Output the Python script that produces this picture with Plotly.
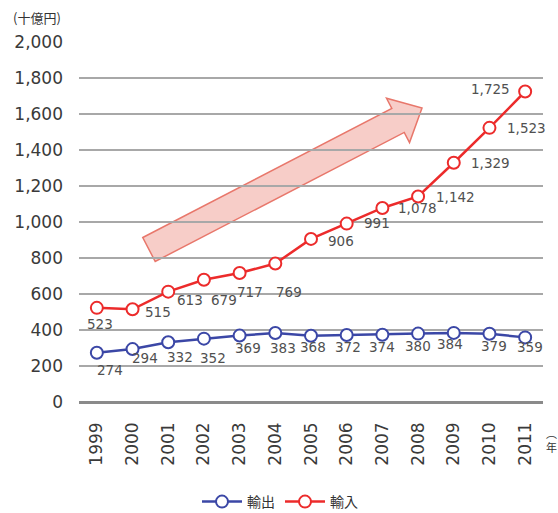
import plotly.graph_objects as go

years = ["1999", "2000", "2001", "2002", "2003", "2004", "2005",
         "2006", "2007", "2008", "2009", "2010", "2011"]
exports = [274, 294, 332, 352, 369, 383, 368, 372, 374, 380, 384, 379, 359]
imports = [523, 515, 613, 679, 717, 769, 906, 991, 1078, 1142, 1329, 1523, 1725]
y_ticks = [0, 200, 400, 600, 800, 1000, 1200, 1400, 1600, 1800, 2000]
series_names = ["輸出", "輸入"]

BLUE = "#3b47a6"
RED = "#ec2b2b"
LABEL = "#505050"
NUMFONT = "DejaVu Sans, sans-serif"
JPFONT = "Noto Sans CJK JP, sans-serif"

W, H = 558, 513
ML, MR, MT, MB = 79, 15, 42, 111

fig = go.Figure()
for name, vals, col in [(series_names[0], exports, BLUE), (series_names[1], imports, RED)]:
    fig.add_trace(go.Scatter(
        x=years, y=vals, name=name, mode="lines+markers",
        line=dict(color=col, width=2.5),
        marker=dict(symbol="circle", size=12, color="white",
                    line=dict(color=col, width=2)),
        cliponaxis=False,
    ))

def fmt(v):
    return f"{v:,}"

# label offsets (pixels) for imports / exports
imp_off = [(3, -16), (25, -3), (22, -8), (20, -20), (10, -19), (14, -28),
           (30, -2), (30, 1), (35, 0), (37, -1), (37, 0), (37, 0), (-35, 3)]
exp_off = [(13, -17), (12, -9), (12, -15), (9, -19), (8, -12), (8, -15),
           (2, -11), (1, -12), (0, -12), (0, -12), (-4, -11), (5, -12), (5, -10)]

anns = []
for i in range(len(years)):
    dx, dy = imp_off[i]
    anns.append(dict(x=i, y=imports[i], text=fmt(imports[i]), showarrow=False,
                     xshift=dx, yshift=dy, font=dict(size=13.5, color=LABEL, family=NUMFONT)))
    dx, dy = exp_off[i]
    anns.append(dict(x=i, y=exports[i], text=fmt(exports[i]), showarrow=False,
                     xshift=dx, yshift=dy, font=dict(size=13.5, color=LABEL, family=NUMFONT)))

anns.append(dict(xref="paper", yref="paper", x=(37 - ML) / (W - ML - MR), y=(MT - 17) / (H - MT - MB) + 1,
                 text="(十億円)", showarrow=False, xanchor="center", yanchor="middle",
                 font=dict(size=13, color="#333", family=JPFONT)))
anns.append(dict(xref="paper", yref="paper", x=(551 - ML) / (W - ML - MR), y=(402 - 440) / (H - MT - MB),
                 text="︵<br>年", showarrow=False, xanchor="center", yanchor="middle",
                 font=dict(size=11, color="#333", family=JPFONT)))

# decorative arrow (pixel geometry -> paper coordinates)
def to_paper(px, py):
    return (px - ML) / (W - ML - MR), (H - MB - py) / (H - MT - MB)

tail = (149.0, 249.5)
tip = (422.0, 108.0)
head_len, head_half, shaft_half = 27.0, 25.0, 13.5
dxv, dyv = tip[0] - tail[0], tip[1] - tail[1]
L = (dxv ** 2 + dyv ** 2) ** 0.5
ux, uy = dxv / L, dyv / L
nx, ny = -uy, ux
bx, by = tip[0] - head_len * ux, tip[1] - head_len * uy
pts = [
    (tail[0] - shaft_half * nx, tail[1] - shaft_half * ny),
    (bx - shaft_half * nx, by - shaft_half * ny),
    (bx - head_half * nx, by - head_half * ny),
    tip,
    (bx + head_half * nx, by + head_half * ny),
    (bx + shaft_half * nx, by + shaft_half * ny),
    (tail[0] + shaft_half * nx, tail[1] + shaft_half * ny),
]
pp = [to_paper(*p) for p in pts]
path = "M " + " L ".join(f"{a:.5f},{b:.5f}" for a, b in pp) + " Z"
fig.add_shape(type="path", path=path, xref="paper", yref="paper",
              fillcolor="rgba(242,178,170,0.65)", line=dict(color="#e8776b", width=1.5),
              layer="below")

fig.update_layout(
    width=W, height=H,
    margin=dict(l=ML, r=MR, t=MT, b=MB, autoexpand=False),
    paper_bgcolor="white", plot_bgcolor="white",
    showlegend=True,
    legend=dict(orientation="h", x=(280 - ML) / (W - ML - MR), y=(402 - 502) / (H - MT - MB),
                xanchor="center", yanchor="middle",
                font=dict(size=14, color="#333", family=JPFONT), itemwidth=40),
    annotations=anns,
    font=dict(family=NUMFONT),
)
fig.update_xaxes(type="category", range=[-0.5, len(years) - 0.5], tickangle=-90,
                 showgrid=False, showline=False, ticks="", ticklabelstandoff=16,
                 automargin=False,
                 tickfont=dict(size=17, color="#3a3a3a", family=NUMFONT))
fig.update_yaxes(range=[0, 2000], tickvals=y_ticks, ticktext=[fmt(v) for v in y_ticks],
                 showgrid=True, gridcolor="#a8a8a8", gridwidth=2,
                 zeroline=True, zerolinecolor="#8a8a8a", zerolinewidth=2.5,
                 showline=False, ticks="", ticklabelstandoff=15, automargin=False,
                 tickfont=dict(size=17, color="#3a3a3a", family=NUMFONT))

fig.write_html("out.html", config={"displayModeBar": False},
               post_script="document.body.style.margin='0';")
